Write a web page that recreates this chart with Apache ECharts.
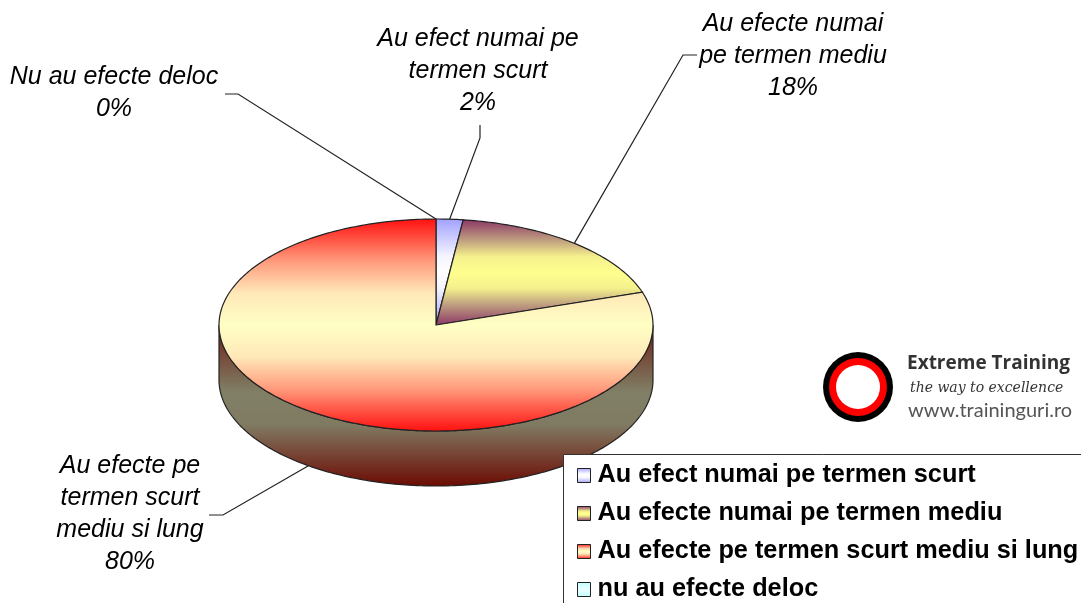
<!DOCTYPE html>
<html lang="ro">
<head>
    <meta charset="UTF-8">
    <title>efecte</title>
    <script src="https://cdn.jsdelivr.net/npm/echarts@6/dist/echarts.min.js"></script>
    <style>
        html, body { margin: 0; padding: 0; background: #fff; }
        #mainChart { width: 1081px; height: 603px; }
    </style>
</head>

<body>
    <div id="mainChart"></div>
    <script>
        // values clockwise from 12 o'clock
        const categories = ['Au efect numai pe termen scurt', 'Au efecte numai pe termen mediu', 'Au efecte pe termen scurt mediu si lung', 'nu au efecte deloc']
        const sliceLabels = ['Au efect numai pe\ntermen scurt', 'Au efecte numai\npe termen mediu', 'Au efecte pe\ntermen scurt\nmediu si lung', 'Nu au efecte deloc']
        const values = [2, 18, 80, 0]

        // pie geometry, in pixels
        const cx = 436, cy = 325, rx = 217, ry = 106, depth = 55

        const labelCenters = [[478, 71], [793, 56], [130, 514], [114, 93]]
        const labelElbows = [
            [[480, 125], [480, 138]],
            [[697, 55], [683, 55]],
            [[209, 515], [223, 515]],
            [[225, 94], [238, 94]]
        ]

        // edge, shoulder, near-middle, middle of each face (mirrored on the way down)
        const sliceStops = [
            ['#a0a0ff', '#d0d0ff', '#f4f4ff', '#ffffff'],
            ['#8b3566', '#c0a080', '#f4f08c', '#ffff8e'],
            ['#ff0f0f', '#ff9a7c', '#ffe8b8', '#ffffc4'],
            ['#bfffff', '#cfffff', '#dcffff', '#e8ffff']
        ]
        const stopOffsets = [0, 0.2, 0.35, 0.5, 0.65, 0.8, 1]

        function gradient(stops) {
            let colors = stops.concat(stops.slice(0, 3).reverse())
            return new echarts.graphic.LinearGradient(0, 0, 0, 1, colors.map((color, i) => ({ offset: stopOffsets[i], color: color })))
        }

        function pointAt(deg, dy) {
            let a = deg * Math.PI / 180
            return [cx + rx * Math.sin(a), cy - ry * Math.cos(a) + (dy || 0)]
        }

        function arc(from, to, dy) {
            let pts = []
            let steps = Math.max(1, Math.ceil(Math.abs(to - from)))
            for (let i = 0; i <= steps; i++) {
                pts.push(pointAt(from + (to - from) * i / steps, dy))
            }
            return pts
        }

        const total = values.reduce((a, b) => a + b, 0)

        function startAngle(index) {
            let sum = 0
            for (let i = 0; i < index; i++) sum += values[i]
            return sum / total * 360
        }

        function sliceRenderer(index) {
            return function (params, api) {
                let value = api.value(0)
                let from = startAngle(index)
                let to = from + value / total * 360
                let mid = (from + to) / 2
                let children = []
                let lineStyle = { stroke: '#222', lineWidth: 1.2, fill: null }

                // front wall, only the part of the slice that faces the viewer
                let wallFrom = Math.max(from, 90)
                let wallTo = Math.min(to, 270)
                if (wallTo > wallFrom) {
                    children.push({
                        type: 'polygon',
                        shape: { points: arc(wallFrom, wallTo, 0).concat(arc(wallTo, wallFrom, depth)) },
                        style: {
                            stroke: '#222',
                            lineWidth: 1.2,
                            fill: new echarts.graphic.LinearGradient(0, 0, 0, 1, [
                                { offset: 0, color: '#6e1d14' },
                                { offset: 0.42, color: '#808066' },
                                { offset: 0.62, color: '#807a62' },
                                { offset: 1, color: '#6c0a02' }
                            ])
                        }
                    })
                }

                // top face
                if (value > 0) {
                    children.push({
                        type: 'polygon',
                        shape: { points: [[cx, cy]].concat(arc(from, to, 0)) },
                        style: { stroke: '#222', lineWidth: 1.2, fill: gradient(sliceStops[index]) }
                    })
                }

                // leader line goes to the rim, or to the bottom of the wall on the front half
                let anchor = pointAt(mid, mid > 90 && mid < 270 ? depth : 0)
                children.push({
                    type: 'polyline',
                    shape: { points: labelElbows[index].concat([anchor]) },
                    style: lineStyle
                })

                children.push({
                    type: 'text',
                    style: {
                        text: sliceLabels[index] + '\n' + value + '%',
                        x: labelCenters[index][0],
                        y: labelCenters[index][1],
                        align: 'center',
                        verticalAlign: 'middle',
                        font: 'italic 25px "Liberation Sans"',
                        lineHeight: 32,
                        fill: '#000'
                    }
                })

                return { type: 'group', children: children }
            }
        }

        let charts = echarts.init(document.querySelector('#mainChart'))

        charts.setOption({
            animation: false,
            backgroundColor: '#ffffff',
            legend: {
                left: 577,
                top: 463,
                orient: 'vertical',
                padding: 0,
                itemWidth: 13,
                itemHeight: 14,
                itemGap: 13,
                selectedMode: false,
                icon: 'rect',
                textStyle: {
                    fontFamily: 'Liberation Sans',
                    fontWeight: 'bold',
                    fontSize: 25.3,
                    color: '#000',
                    padding: [0, 0, 0, 2]
                },
                data: categories.map((name, i) => ({
                    name: name,
                    itemStyle: { color: gradient(sliceStops[i]), borderColor: '#222', borderWidth: 1 }
                }))
            },
            graphic: [
                // legend frame runs off the picture to the right and bottom
                { type: 'rect', z: 3, shape: { x: 563.5, y: 454.5, width: 600, height: 200 }, style: { fill: '#fff', stroke: '#333', lineWidth: 1 } },
                // logo
                { type: 'circle', shape: { cx: 858, cy: 387, r: 35 }, style: { fill: '#000' } },
                { type: 'circle', shape: { cx: 858, cy: 387, r: 29 }, style: { fill: '#ff0000' } },
                { type: 'circle', shape: { cx: 858, cy: 387, r: 22 }, style: { fill: '#fff' } },
                { type: 'text', style: { text: 'Extreme Training', x: 907, y: 364, verticalAlign: 'middle', font: 'bold 19px "Open Sans"', fill: '#333' } },
                { type: 'text', style: { text: 'the way to excellence', x: 910, y: 388, verticalAlign: 'middle', font: 'italic 14px "DejaVu Serif"', fill: '#333' } },
                { type: 'text', style: { text: 'www.traininguri.ro', x: 908, y: 411, verticalAlign: 'middle', font: '20px Lato', fill: '#555' } }
            ],
            series: categories.map((name, i) => ({
                type: 'custom',
                name: name,
                coordinateSystem: 'none',
                silent: true,
                data: [[values[i]]],
                renderItem: sliceRenderer(i)
            }))
        })

        window.addEventListener('resize', function () {
            charts.resize()
        })
    </script>
</body>

</html>
